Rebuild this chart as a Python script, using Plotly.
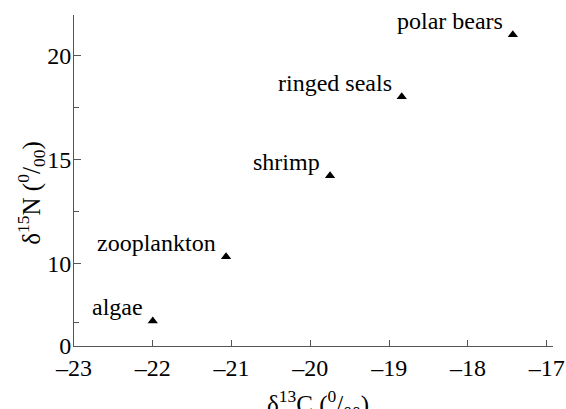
import plotly.graph_objects as go

species = ["algae", "zooplankton", "shrimp", "ringed seals", "polar bears"]
d13C = [-22.0, -21.07, -19.75, -18.84, -17.43]
d15N = [7.26, 10.35, 14.23, 18.03, 21.0]

y_tickvals = [6.06, 10, 15, 20]
y_ticktext = ["0", "10", "15", "20"]
y_minor = [7.2, 12.5, 17.5]
x_tickvals = [-23, -22, -21, -20, -19, -18, -17]
x_ticktext = ["\u201323", "\u201322", "\u201321", "\u201320", "\u201319", "\u201318", "\u201317"]

FONT = "'Liberation Serif', 'Times New Roman', serif"
AX = "#555555"

fig = go.Figure()
fig.add_trace(go.Scatter(
    x=d13C, y=d15N, mode="markers",
    marker=dict(symbol="triangle-up", size=9, color="black"),
    showlegend=False, hoverinfo="skip",
))

for name, xv, yv in zip(species, d13C, d15N):
    fig.add_annotation(
        x=xv, y=yv, text=name, showarrow=False,
        xanchor="right", yanchor="middle",
        xshift=-8, yshift=14,
        font=dict(family=FONT, size=24, color="black"),
    )

# axis titles
fig.add_annotation(
    xref="paper", yref="paper", x=0.51, y=0, xanchor="center", yanchor="top",
    yshift=-38, showarrow=False,
    text="\u03b4<sup>13</sup>C (<sup>0</sup>/<sub>00</sub>)",
    font=dict(family=FONT, size=25, color="black"),
)
fig.add_annotation(
    xref="paper", yref="paper", x=0, y=0.46, xanchor="center", yanchor="middle",
    xshift=-43, textangle=-90, showarrow=False,
    text="\u03b4<sup>15</sup>N (<sup>0</sup>/<sub>00</sub>)",
    font=dict(family=FONT, size=25, color="black"),
)

fig.update_layout(
    width=566, height=409,
    margin=dict(l=74, r=13, t=15, b=63),
    paper_bgcolor="white", plot_bgcolor="white",
    font=dict(family=FONT, size=23, color="black"),
    xaxis=dict(
        range=[-23, -16.92], tickvals=x_tickvals, ticktext=x_ticktext,
        automargin=False,
        showgrid=False, zeroline=False, showline=True, linecolor=AX, linewidth=1,
        ticks="inside", ticklen=6, tickcolor=AX, ticklabeloverflow="allow",
        tickfont=dict(family=FONT, size=24),
    ),
    yaxis=dict(
        range=[6.06, 21.95], tickvals=y_tickvals, ticktext=y_ticktext,
        automargin=False,
        showgrid=False, zeroline=False, showline=True, linecolor=AX, linewidth=1,
        ticks="inside", ticklen=7, tickcolor=AX, ticklabelstandoff=-3,
        minor=dict(tickvals=y_minor, ticks="inside", ticklen=5, tickcolor=AX),
        tickfont=dict(family=FONT, size=24),
    ),
)

fig.write_html(
    "out.html",
    config={"displayModeBar": False},
    post_script="document.body.style.margin='0';document.body.style.overflow='hidden';",
)
